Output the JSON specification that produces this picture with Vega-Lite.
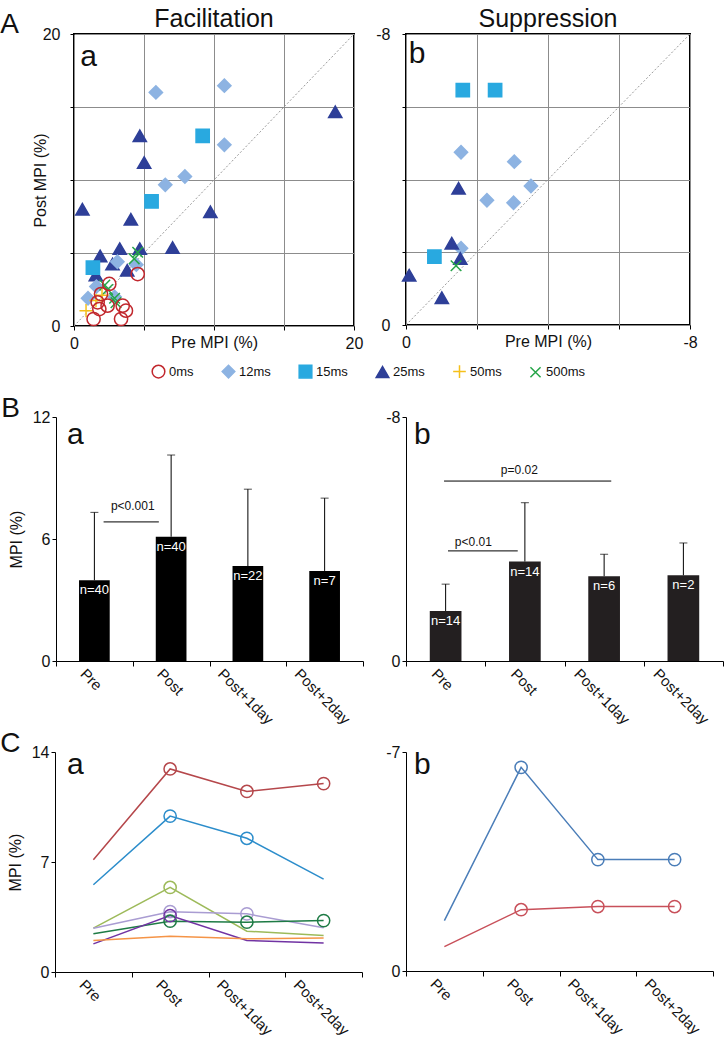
{
  "$schema": "https://vega.github.io/schema/vega-lite/v6.json",
  "background": "white",
  "padding": {"left": 0, "top": 6, "right": 0, "bottom": 0},
  "config": {
    "font": "Liberation Sans, Arial, sans-serif",
    "view": {"stroke": null},
    "axis": {"titleFontWeight": "normal", "labelColor": "#111", "titleColor": "#111", "domainColor": "#000", "tickColor": "#000"},
    "title": {"fontWeight": "normal", "color": "#111"},
    "legend": {"labelColor": "#111"}
  },
  "title": {"text": "A", "anchor": "start", "frame": "bounds", "fontSize": 28, "offset": -55, "baseline": "alphabetic"},
  "columns": 2,
  "bounds": "flush",
  "align": "each",
  "spacing": {"row": 91, "column": 43},
  "resolve": {"scale": {"color": "independent", "fill": "independent", "stroke": "independent", "shape": "independent"}},
  "datasets": {
    "scatterA": [
      {"group": "25ms", "pre": 18.66, "post": 14.67},
      {"group": "25ms", "pre": 4.7, "post": 13.03},
      {"group": "25ms", "pre": 5.01, "post": 11.2},
      {"group": "25ms", "pre": 0.6, "post": 8.0},
      {"group": "25ms", "pre": 9.74, "post": 7.82},
      {"group": "25ms", "pre": 4.06, "post": 7.31},
      {"group": "25ms", "pre": 7.04, "post": 5.37},
      {"group": "25ms", "pre": 4.7, "post": 5.3},
      {"group": "25ms", "pre": 3.27, "post": 5.3},
      {"group": "25ms", "pre": 1.87, "post": 4.8},
      {"group": "25ms", "pre": 2.75, "post": 4.24},
      {"group": "25ms", "pre": 3.8, "post": 3.82},
      {"group": "25ms", "pre": 1.56, "post": 3.5},
      {"group": "15ms", "pre": 9.19, "post": 13.03},
      {"group": "15ms", "pre": 5.54, "post": 8.53},
      {"group": "15ms", "pre": 1.35, "post": 4.0},
      {"group": "12ms", "pre": 5.85, "post": 16.0},
      {"group": "12ms", "pre": 10.74, "post": 16.46},
      {"group": "12ms", "pre": 10.74, "post": 12.41},
      {"group": "12ms", "pre": 7.92, "post": 10.24},
      {"group": "12ms", "pre": 6.52, "post": 9.67},
      {"group": "12ms", "pre": 1.0, "post": 1.9},
      {"group": "12ms", "pre": 4.45, "post": 4.2},
      {"group": "12ms", "pre": 2.9, "post": 2.0},
      {"group": "12ms", "pre": 3.1, "post": 4.4},
      {"group": "12ms", "pre": 1.6, "post": 2.7},
      {"group": "500ms", "pre": 4.55, "post": 5.05},
      {"group": "500ms", "pre": 4.3, "post": 4.6},
      {"group": "500ms", "pre": 2.4, "post": 2.5},
      {"group": "500ms", "pre": 2.9, "post": 1.9},
      {"group": "500ms", "pre": 3.0, "post": 1.6},
      {"group": "500ms", "pre": 2.2, "post": 2.8},
      {"group": "50ms", "pre": 1.57, "post": 1.74},
      {"group": "50ms", "pre": 0.86, "post": 1.05},
      {"group": "50ms", "pre": 2.0, "post": 2.1},
      {"group": "0ms", "pre": 4.55, "post": 3.56},
      {"group": "0ms", "pre": 2.52, "post": 2.88},
      {"group": "0ms", "pre": 1.93, "post": 2.19},
      {"group": "0ms", "pre": 1.69, "post": 1.62},
      {"group": "0ms", "pre": 1.4, "post": 0.48},
      {"group": "0ms", "pre": 3.48, "post": 1.39},
      {"group": "0ms", "pre": 3.71, "post": 1.05},
      {"group": "0ms", "pre": 3.36, "post": 0.48},
      {"group": "0ms", "pre": 2.4, "post": 1.39},
      {"group": "0ms", "pre": 1.81, "post": 1.16}
    ],
    "scatterB": [
      {"group": "12ms", "pre": -1.55, "post": -4.75},
      {"group": "12ms", "pre": -3.05, "post": -4.49},
      {"group": "12ms", "pre": -3.52, "post": -3.82},
      {"group": "12ms", "pre": -2.28, "post": -3.43},
      {"group": "12ms", "pre": -3.03, "post": -3.36},
      {"group": "12ms", "pre": -1.55, "post": -2.11},
      {"group": "15ms", "pre": -1.6, "post": -6.46},
      {"group": "15ms", "pre": -2.51, "post": -6.46},
      {"group": "15ms", "pre": -0.8, "post": -1.88},
      {"group": "25ms", "pre": -1.48, "post": -3.76},
      {"group": "25ms", "pre": -1.29, "post": -2.25},
      {"group": "25ms", "pre": -1.53, "post": -1.83},
      {"group": "25ms", "pre": -0.09, "post": -1.37},
      {"group": "25ms", "pre": -1.01, "post": -0.75},
      {"group": "500ms", "pre": -1.41, "post": -1.63}
    ],
    "barsA": [
      {"t": "Pre", "mean": 3.97, "upper": 7.31, "label": "n=40"},
      {"t": "Post", "mean": 6.11, "upper": 10.13, "label": "n=40"},
      {"t": "Post+1day", "mean": 4.67, "upper": 8.45, "label": "n=22"},
      {"t": "Post+2day", "mean": 4.43, "upper": 8.01, "label": "n=7"}
    ],
    "barsB": [
      {"t": "Pre", "mean": -1.64, "upper": -2.52, "label": "n=14"},
      {"t": "Post", "mean": -3.26, "upper": -5.19, "label": "n=14"},
      {"t": "Post+1day", "mean": -2.78, "upper": -3.5, "label": "n=6"},
      {"t": "Post+2day", "mean": -2.81, "upper": -3.87, "label": "n=2"}
    ],
    "sigA": [
      {"from": "Pre", "to": "Post", "y": 6.84, "label": "p<0.001"}
    ],
    "sigB": [
      {"from": "Pre", "to": "Post+1day", "y": -5.9, "label": "p=0.02"},
      {"from": "Pre", "to": "Post", "y": -3.61, "label": "p<0.01"}
    ],
    "linesA": [
      {"id": "r1", "t": "Pre", "v": 7.14, "marked": false},
      {"id": "r1", "t": "Post", "v": 12.92, "marked": true},
      {"id": "r1", "t": "Post+1day", "v": 11.49, "marked": true},
      {"id": "r1", "t": "Post+2day", "v": 11.99, "marked": true},
      {"id": "r2", "t": "Pre", "v": 5.55, "marked": false},
      {"id": "r2", "t": "Post", "v": 9.92, "marked": true},
      {"id": "r2", "t": "Post+1day", "v": 8.51, "marked": true},
      {"id": "r2", "t": "Post+2day", "v": 5.91, "marked": false},
      {"id": "r3", "t": "Pre", "v": 2.79, "marked": false},
      {"id": "r3", "t": "Post", "v": 5.38, "marked": true},
      {"id": "r3", "t": "Post+1day", "v": 2.6, "marked": false},
      {"id": "r3", "t": "Post+2day", "v": 2.32, "marked": false},
      {"id": "r4", "t": "Pre", "v": 2.79, "marked": false},
      {"id": "r4", "t": "Post", "v": 3.84, "marked": true},
      {"id": "r4", "t": "Post+1day", "v": 3.7, "marked": true},
      {"id": "r4", "t": "Post+2day", "v": 2.81, "marked": false},
      {"id": "r5", "t": "Pre", "v": 2.43, "marked": false},
      {"id": "r5", "t": "Post", "v": 3.23, "marked": true},
      {"id": "r5", "t": "Post+1day", "v": 3.17, "marked": true},
      {"id": "r5", "t": "Post+2day", "v": 3.27, "marked": true},
      {"id": "r6", "t": "Pre", "v": 1.79, "marked": false},
      {"id": "r6", "t": "Post", "v": 3.59, "marked": true},
      {"id": "r6", "t": "Post+1day", "v": 2.01, "marked": false},
      {"id": "r6", "t": "Post+2day", "v": 1.84, "marked": false},
      {"id": "r7", "t": "Pre", "v": 2.01, "marked": false},
      {"id": "r7", "t": "Post", "v": 2.28, "marked": false},
      {"id": "r7", "t": "Post+1day", "v": 2.11, "marked": false},
      {"id": "r7", "t": "Post+2day", "v": 2.17, "marked": false}
    ],
    "linesB": [
      {"id": "b1", "t": "Pre", "v": -1.61, "marked": false},
      {"id": "b1", "t": "Post", "v": -6.51, "marked": true},
      {"id": "b1", "t": "Post+1day", "v": -3.56, "marked": true},
      {"id": "b1", "t": "Post+2day", "v": -3.56, "marked": true},
      {"id": "b2", "t": "Pre", "v": -0.78, "marked": false},
      {"id": "b2", "t": "Post", "v": -1.96, "marked": true},
      {"id": "b2", "t": "Post+1day", "v": -2.06, "marked": true},
      {"id": "b2", "t": "Post+2day", "v": -2.06, "marked": true}
    ]
  },
  "concat": [
    {
      "width": 280, "height": 292,
      "view": {"stroke": "#000", "strokeWidth": 2},
      "title": {"text": "Facilitation", "fontSize": 25, "anchor": "middle", "offset": -26, "baseline": "alphabetic"},
      "layer": [
        {
          "data": {"values": [{}]},
          "mark": {"type": "rule", "color": "#9a9a9a", "strokeDash": [2, 2], "strokeWidth": 1},
          "encoding": {
            "x": {"datum": 0, "type": "quantitative", "scale": {"domain": [0, 20], "nice": false, "zero": false},
              "axis": {"title": "Pre MPI (%)", "values": [0, 5, 10, 15, 20], "labelExpr": "datum.value == 0 || datum.value == 20 ? datum.label : ''", "grid": true, "gridColor": "#8c8c8c", "tickSize": 4, "domain": false, "labelFontSize": 16, "labelPadding": 5, "labelFlush": false, "titleFontSize": 16, "titlePadding": -17}},
            "y": {"datum": 0, "type": "quantitative", "scale": {"domain": [0, 20], "nice": false, "zero": false},
              "axis": {"title": "Post MPI (%)", "values": [0, 5, 10, 15, 20], "labelExpr": "datum.value == 0 || datum.value == 20 ? datum.label : ''", "grid": true, "gridColor": "#8c8c8c", "tickSize": 4, "domain": false, "labelFontSize": 16, "labelPadding": 10, "titleFontSize": 16, "titlePadding": -6}},
            "x2": {"datum": 20},
            "y2": {"datum": 20}
          }
        },
        {
          "data": {"name": "scatterA"},
          "mark": {"type": "point", "size": 175, "strokeWidth": 1.5, "opacity": 1},
          "encoding": {
            "x": {"field": "pre", "type": "quantitative"},
            "y": {"field": "post", "type": "quantitative"},
            "shape": {"field": "group", "type": "nominal", "scale": {"domain": ["0ms", "12ms", "15ms", "25ms", "50ms", "500ms"], "range": ["circle", "diamond", "square", "triangle-up", "M-1,0H1M0,-1V1", "M-0.8,-0.8L0.8,0.8M-0.8,0.8L0.8,-0.8"]},
              "legend": {"orient": "none", "legendX": 77, "legendY": 330, "direction": "horizontal", "title": null, "padding": 0, "symbolSize": 160, "symbolStrokeWidth": 1.5, "labelFontSize": 13, "labelOffset": 3, "columnPadding": 25}},
            "fill": {"field": "group", "type": "nominal", "scale": {"domain": ["0ms", "12ms", "15ms", "25ms", "50ms", "500ms"], "range": ["transparent", "#8DB3E2", "#29A9E0", "#2E3F98", "transparent", "transparent"]},
              "legend": {"orient": "none", "legendX": 77, "legendY": 330, "direction": "horizontal", "title": null, "padding": 0, "symbolSize": 160, "symbolStrokeWidth": 1.5, "labelFontSize": 13, "labelOffset": 3, "columnPadding": 25}},
            "stroke": {"field": "group", "type": "nominal", "scale": {"domain": ["0ms", "12ms", "15ms", "25ms", "50ms", "500ms"], "range": ["#C1272D", "#8DB3E2", "#29A9E0", "#2E3F98", "#F5C01B", "#26A548"]},
              "legend": {"orient": "none", "legendX": 77, "legendY": 330, "direction": "horizontal", "title": null, "padding": 0, "symbolSize": 160, "symbolStrokeWidth": 1.5, "labelFontSize": 13, "labelOffset": 3, "columnPadding": 25}}
          }
        },
        {
          "data": {"values": [{}]},
          "mark": {"type": "text", "text": "a", "fontSize": 30, "align": "left", "baseline": "alphabetic", "color": "#111"},
          "encoding": {"x": {"datum": 0.45, "type": "quantitative"}, "y": {"datum": 17.8, "type": "quantitative"}}
        }
      ]
    },
    {
      "width": 284, "height": 291,
      "view": {"stroke": "#000", "strokeWidth": 2},
      "title": {"text": "Suppression", "fontSize": 25, "anchor": "middle", "offset": -26, "baseline": "alphabetic"},
      "layer": [
        {
          "data": {"values": [{}]},
          "mark": {"type": "rule", "color": "#9a9a9a", "strokeDash": [2, 2], "strokeWidth": 1},
          "encoding": {
            "x": {"datum": 0, "type": "quantitative", "scale": {"domain": [0, -8], "nice": false, "zero": false},
              "axis": {"title": "Pre MPI (%)", "values": [0, -2, -4, -6, -8], "labelExpr": "datum.value == 0 ? '0' : datum.value == -8 ? '-8' : ''", "grid": true, "gridColor": "#8c8c8c", "tickSize": 4, "domain": false, "labelFontSize": 16, "labelPadding": 5, "labelFlush": false, "titleFontSize": 16, "titlePadding": -17}},
            "y": {"datum": 0, "type": "quantitative", "scale": {"domain": [0, -8], "nice": false, "zero": false},
              "axis": {"title": null, "values": [0, -2, -4, -6, -8], "labelExpr": "datum.value == 0 ? '0' : datum.value == -8 ? '-8' : ''", "grid": true, "gridColor": "#8c8c8c", "tickSize": 4, "domain": false, "labelFontSize": 16, "labelPadding": 12}},
            "x2": {"datum": -8},
            "y2": {"datum": -8}
          }
        },
        {
          "data": {"name": "scatterB"},
          "mark": {"type": "point", "size": 175, "strokeWidth": 1.5, "opacity": 1},
          "encoding": {
            "x": {"field": "pre", "type": "quantitative"},
            "y": {"field": "post", "type": "quantitative"},
            "shape": {"field": "group", "type": "nominal", "scale": {"domain": ["0ms", "12ms", "15ms", "25ms", "50ms", "500ms"], "range": ["circle", "diamond", "square", "triangle-up", "M-1,0H1M0,-1V1", "M-0.8,-0.8L0.8,0.8M-0.8,0.8L0.8,-0.8"]}, "legend": null},
            "fill": {"field": "group", "type": "nominal", "scale": {"domain": ["0ms", "12ms", "15ms", "25ms", "50ms", "500ms"], "range": ["transparent", "#8DB3E2", "#29A9E0", "#2E3F98", "transparent", "transparent"]}, "legend": null},
            "stroke": {"field": "group", "type": "nominal", "scale": {"domain": ["0ms", "12ms", "15ms", "25ms", "50ms", "500ms"], "range": ["#C1272D", "#8DB3E2", "#29A9E0", "#2E3F98", "#F5C01B", "#26A548"]}, "legend": null}
          }
        },
        {
          "data": {"values": [{}]},
          "mark": {"type": "text", "text": "b", "fontSize": 30, "align": "left", "baseline": "alphabetic", "color": "#111"},
          "encoding": {"x": {"datum": -0.08, "type": "quantitative"}, "y": {"datum": -7.2, "type": "quantitative"}}
        }
      ]
    },
    {
      "width": 289, "height": 244,
      "title": {"text": "B", "anchor": "start", "frame": "bounds", "fontSize": 28, "offset": -36, "baseline": "alphabetic", "dx": -7},
      "data": {"name": "barsA"},
      "layer": [
        {
          "mark": {"type": "bar", "color": "#000", "width": {"band": 0.4}},
          "encoding": {
            "x": {"field": "t", "type": "nominal", "sort": null, "scale": {"type": "band", "domain": ["Pre", "Post", "Post+1day", "Post+2day"], "range": [-18, 289], "paddingInner": 0, "paddingOuter": 0},
              "axis": {"title": null, "tickBand": "extent", "labelAngle": 45, "labelAlign": "left", "labelBaseline": "top", "labelFontSize": 15, "labelPadding": 0, "tickSize": 5, "labelOffset": {"condition": {"test": "length(datum.label) > 4", "value": -23}, "value": -7}}},
            "y": {"field": "mean", "type": "quantitative", "scale": {"domain": [0, 12], "nice": false},
              "axis": {"values": [0, 6, 12], "title": "MPI (%)", "offset": 18, "tickSize": 4, "labelFontSize": 16, "labelPadding": 2, "titleFontSize": 16, "titlePadding": 8, "grid": false}}
          }
        },
        {
          "mark": {"type": "rule", "color": "#000", "strokeWidth": 1},
          "encoding": {"x": {"field": "t", "type": "nominal", "bandPosition": 0.5}, "y": {"field": "mean", "type": "quantitative"}, "y2": {"field": "upper"}}
        },
        {
          "mark": {"type": "tick", "orient": "horizontal", "size": 8, "thickness": 1, "color": "#000"},
          "encoding": {"x": {"field": "t", "type": "nominal", "bandPosition": 0.5}, "y": {"field": "upper", "type": "quantitative"}}
        },
        {
          "mark": {"type": "text", "color": "#fff", "fontSize": 13, "baseline": "middle", "dy": 10},
          "encoding": {"x": {"field": "t", "type": "nominal", "bandPosition": 0.5}, "y": {"field": "mean", "type": "quantitative"}, "text": {"field": "label"}}
        },
        {
          "data": {"name": "sigA"},
          "mark": {"type": "rule", "color": "#000", "strokeWidth": 1},
          "encoding": {"x": {"field": "from", "type": "nominal", "bandPosition": 0.62}, "x2": {"field": "to", "bandPosition": 0.34}, "y": {"field": "y", "type": "quantitative"}}
        },
        {
          "data": {"name": "sigA"},
          "mark": {"type": "text", "fontSize": 12, "baseline": "alphabetic", "dy": -12, "color": "#111"},
          "encoding": {"x": {"field": "from", "type": "nominal", "bandPosition": 1}, "y": {"field": "y", "type": "quantitative"}, "text": {"field": "label"}}
        },
        {
          "data": {"values": [{}]},
          "mark": {"type": "text", "text": "a", "fontSize": 30, "align": "left", "baseline": "alphabetic", "dx": 11, "color": "#111"},
          "encoding": {"x": {"datum": "Pre", "type": "nominal", "bandPosition": 0}, "y": {"datum": 10.67, "type": "quantitative"}}
        }
      ]
    },
    {
      "width": 317, "height": 244,
      "data": {"name": "barsB"},
      "layer": [
        {
          "mark": {"type": "bar", "color": "#231F20", "width": {"band": 0.4}},
          "encoding": {
            "x": {"field": "t", "type": "nominal", "sort": null, "scale": {"type": "band", "domain": ["Pre", "Post", "Post+1day", "Post+2day"], "paddingInner": 0, "paddingOuter": 0},
              "axis": {"title": null, "tickBand": "extent", "labelAngle": 45, "labelAlign": "left", "labelBaseline": "top", "labelFontSize": 15, "labelPadding": 0, "tickSize": 5, "labelOffset": {"condition": {"test": "length(datum.label) > 4", "value": -23}, "value": -7}}},
            "y": {"field": "mean", "type": "quantitative", "scale": {"domain": [0, -8], "nice": false, "zero": false},
              "axis": {"values": [0, -8], "labelExpr": "datum.value == 0 ? '0' : '-8'", "title": null, "tickSize": 4, "labelFontSize": 16, "labelPadding": 2, "grid": false}}
          }
        },
        {
          "mark": {"type": "rule", "color": "#000", "strokeWidth": 1},
          "encoding": {"x": {"field": "t", "type": "nominal", "bandPosition": 0.5}, "y": {"field": "mean", "type": "quantitative"}, "y2": {"field": "upper"}}
        },
        {
          "mark": {"type": "tick", "orient": "horizontal", "size": 8, "thickness": 1, "color": "#000"},
          "encoding": {"x": {"field": "t", "type": "nominal", "bandPosition": 0.5}, "y": {"field": "upper", "type": "quantitative"}}
        },
        {
          "mark": {"type": "text", "color": "#fff", "fontSize": 13, "baseline": "middle", "dy": 10},
          "encoding": {"x": {"field": "t", "type": "nominal", "bandPosition": 0.5}, "y": {"field": "mean", "type": "quantitative"}, "text": {"field": "label"}}
        },
        {
          "data": {"name": "sigB"},
          "transform": [{"filter": "datum.label == 'p=0.02'"}],
          "mark": {"type": "rule", "color": "#000", "strokeWidth": 1},
          "encoding": {"x": {"field": "from", "type": "nominal", "bandPosition": 0.48}, "x2": {"field": "to", "bandPosition": 0.59}, "y": {"field": "y", "type": "quantitative"}}
        },
        {
          "data": {"name": "sigB"},
          "transform": [{"filter": "datum.label == 'p<0.01'"}],
          "mark": {"type": "rule", "color": "#000", "strokeWidth": 1},
          "encoding": {"x": {"field": "from", "type": "nominal", "bandPosition": 0.53}, "x2": {"field": "to", "bandPosition": 0.41}, "y": {"field": "y", "type": "quantitative"}}
        },
        {
          "data": {"name": "sigB"},
          "transform": [{"filter": "datum.label == 'p=0.02'"}],
          "mark": {"type": "text", "fontSize": 12, "baseline": "alphabetic", "dy": -7, "color": "#111"},
          "encoding": {"x": {"datum": "Post", "type": "nominal", "bandPosition": 0.43}, "y": {"field": "y", "type": "quantitative"}, "text": {"field": "label"}}
        },
        {
          "data": {"name": "sigB"},
          "transform": [{"filter": "datum.label == 'p<0.01'"}],
          "mark": {"type": "text", "fontSize": 12, "baseline": "alphabetic", "dy": -5, "color": "#111"},
          "encoding": {"x": {"field": "from", "type": "nominal", "bandPosition": 0.85}, "y": {"field": "y", "type": "quantitative"}, "text": {"field": "label"}}
        },
        {
          "data": {"values": [{}]},
          "mark": {"type": "text", "text": "b", "fontSize": 30, "align": "left", "baseline": "alphabetic", "dx": 8, "color": "#111"},
          "encoding": {"x": {"datum": "Pre", "type": "nominal", "bandPosition": 0}, "y": {"datum": -7.1, "type": "quantitative"}}
        }
      ]
    },
    {
      "width": 288, "height": 220,
      "title": {"text": "C", "anchor": "start", "frame": "bounds", "fontSize": 28, "offset": -36, "baseline": "alphabetic", "dx": -7},
      "data": {"name": "linesA"},
      "layer": [
        {
          "mark": {"type": "line", "strokeWidth": 1.5},
          "encoding": {
            "x": {"field": "t", "type": "nominal", "sort": null, "bandPosition": 0.5, "scale": {"type": "band", "domain": ["Pre", "Post", "Post+1day", "Post+2day"], "range": [-19, 288], "paddingInner": 0, "paddingOuter": 0},
              "axis": {"title": null, "tickBand": "extent", "labelAngle": 45, "labelAlign": "left", "labelBaseline": "top", "labelFontSize": 15, "labelPadding": 0, "tickSize": 5, "labelOffset": {"condition": {"test": "length(datum.label) > 4", "value": -23}, "value": -7}}},
            "y": {"field": "v", "type": "quantitative", "scale": {"domain": [0, 14], "nice": false},
              "axis": {"values": [0, 7, 14], "title": "MPI (%)", "offset": 19, "tickSize": 4, "labelFontSize": 16, "labelPadding": 2, "titleFontSize": 16, "titlePadding": 8, "grid": false}},
            "color": {"field": "id", "type": "nominal", "scale": {"domain": ["r1", "r2", "r3", "r4", "r5", "r6", "r7"], "range": ["#B5474B", "#2C8DCB", "#9DBA5A", "#A99CD2", "#1E7B45", "#7133A3", "#F59447"]}, "legend": null}
          }
        },
        {
          "transform": [{"filter": "datum.marked"}],
          "mark": {"type": "point", "filled": false, "size": 150, "strokeWidth": 1.5, "opacity": 1},
          "encoding": {
            "x": {"field": "t", "type": "nominal", "bandPosition": 0.5},
            "y": {"field": "v", "type": "quantitative"},
            "color": {"field": "id", "type": "nominal", "legend": null}
          }
        },
        {
          "data": {"values": [{}]},
          "mark": {"type": "text", "text": "a", "fontSize": 30, "align": "left", "baseline": "alphabetic", "dx": 12, "color": "#111"},
          "encoding": {"x": {"datum": "Pre", "type": "nominal", "bandPosition": 0}, "y": {"datum": 12.6, "type": "quantitative"}}
        }
      ]
    },
    {
      "width": 307, "height": 219,
      "data": {"name": "linesB"},
      "layer": [
        {
          "mark": {"type": "line", "strokeWidth": 1.5},
          "encoding": {
            "x": {"field": "t", "type": "nominal", "sort": null, "bandPosition": 0.5, "scale": {"type": "band", "domain": ["Pre", "Post", "Post+1day", "Post+2day"], "paddingInner": 0, "paddingOuter": 0},
              "axis": {"title": null, "tickBand": "extent", "labelAngle": 45, "labelAlign": "left", "labelBaseline": "top", "labelFontSize": 15, "labelPadding": 0, "tickSize": 5, "labelOffset": {"condition": {"test": "length(datum.label) > 4", "value": -23}, "value": -7}}},
            "y": {"field": "v", "type": "quantitative", "scale": {"domain": [0, -7], "nice": false, "zero": false},
              "axis": {"values": [0, -7], "labelExpr": "datum.value == 0 ? '0' : '-7'", "title": null, "tickSize": 4, "labelFontSize": 16, "labelPadding": 2, "grid": false}},
            "color": {"field": "id", "type": "nominal", "scale": {"domain": ["b1", "b2"], "range": ["#4A7DB8", "#C8505A"]}, "legend": null}
          }
        },
        {
          "transform": [{"filter": "datum.marked"}],
          "mark": {"type": "point", "filled": false, "size": 150, "strokeWidth": 1.5, "opacity": 1},
          "encoding": {
            "x": {"field": "t", "type": "nominal", "bandPosition": 0.5},
            "y": {"field": "v", "type": "quantitative"},
            "color": {"field": "id", "type": "nominal", "legend": null}
          }
        },
        {
          "data": {"values": [{}]},
          "mark": {"type": "text", "text": "b", "fontSize": 30, "align": "left", "baseline": "alphabetic", "dx": 8, "color": "#111"},
          "encoding": {"x": {"datum": "Pre", "type": "nominal", "bandPosition": 0}, "y": {"datum": -6.3, "type": "quantitative"}}
        }
      ]
    }
  ]
}
